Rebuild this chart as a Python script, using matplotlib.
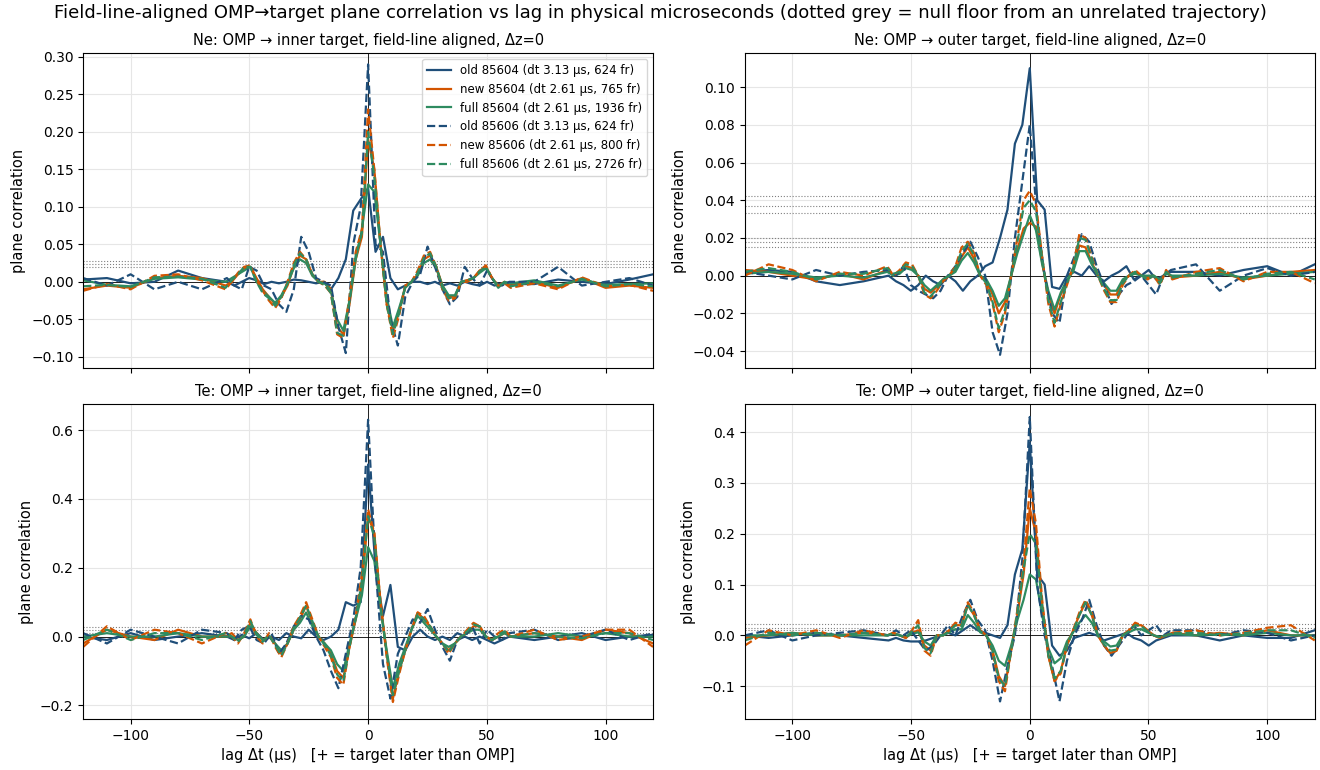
import numpy as np
import matplotlib
matplotlib.use("Agg")
import matplotlib.pyplot as plt

DT_OLD, DT_NEW = 3.13, 2.61
outer_lags_left = [-120, -110, -100, -90, -80, -70]
outer_lags_right = [70, 80, 90, 100, 110, 120]

def lags_for(dt, n):
    core = np.arange(-(n // 2), n // 2 + 1) * dt
    return np.concatenate([outer_lags_left, core, outer_lags_right])

# ---------------- Ne inner ----------------
ne_in_old04 = [0.003,0.005,-0.002,0.0,0.015,0.005,
 0.0,-0.005,0.0,0.005,0.002,-0.003,0.0,-0.002,0.0,0.003,0.002,0.0,-0.002,0.0,-0.01,0.005,0.03,0.095,0.11,0.125,0.04,0.06,0.005,-0.01,-0.005,0.0,0.0,-0.003,0.0,-0.005,-0.002,-0.005,0.0,-0.003,-0.005,0.0,-0.005,-0.002,-0.003,
 -0.003,0.003,0.0,-0.003,0.003,0.01]
ne_in_old06 = [0.005,-0.005,0.01,-0.01,0.0,-0.01,
 0.005,-0.005,-0.01,0.02,0.015,-0.005,-0.01,-0.03,-0.04,-0.01,0.06,0.04,0.005,0.0,-0.005,-0.06,-0.095,0.05,0.1,0.29,0.05,0.04,-0.05,-0.085,-0.02,0.0,0.01,0.047,0.02,-0.01,-0.03,-0.02,0.02,0.005,-0.005,0.015,0.0,-0.005,0.0,
 0.0,0.02,-0.005,0.0,0.005,-0.005]
ne_in_new04 = [-0.01,-0.005,-0.008,0.005,0.008,0.005,
 -0.005,0.0,0.01,0.018,0.02,0.005,-0.01,-0.02,-0.03,-0.02,-0.005,0.02,0.035,0.03,0.01,0.0,0.0,-0.01,-0.06,-0.07,-0.03,0.03,0.06,0.19,0.15,0.05,-0.03,-0.065,-0.04,-0.005,0.0,0.01,0.03,0.035,0.02,-0.005,-0.02,-0.02,0.0,0.0,0.005,0.015,0.02,0.005,-0.005,0.0,-0.005,
 0.0,-0.008,0.005,-0.008,-0.005,-0.008]
ne_in_full04 = [0.002,-0.004,-0.006,0.004,0.006,0.003,
 0.0,0.005,0.01,0.015,0.02,0.0,-0.012,-0.02,-0.028,-0.018,-0.002,0.018,0.03,0.025,0.008,0.0,-0.002,-0.012,-0.05,-0.065,-0.025,0.03,0.07,0.13,0.12,0.05,-0.02,-0.06,-0.035,-0.008,0.0,0.008,0.025,0.03,0.018,-0.005,-0.018,-0.018,0.0,0.002,0.005,0.012,0.018,0.005,-0.008,0.0,-0.002,
 0.002,-0.005,0.003,-0.004,-0.003,-0.002]
ne_in_new06 = [-0.012,-0.003,-0.01,0.008,0.01,0.002,
 -0.01,0.0,0.012,0.02,0.022,0.003,-0.012,-0.025,-0.035,-0.022,0.0,0.025,0.04,0.03,0.01,0.0,-0.005,-0.015,-0.07,-0.075,-0.02,0.04,0.07,0.23,0.15,0.05,-0.03,-0.075,-0.045,-0.005,0.0,0.015,0.035,0.04,0.02,-0.01,-0.025,-0.022,0.0,0.002,0.005,0.015,0.022,0.005,-0.005,-0.002,-0.008,
 -0.002,-0.01,0.006,-0.006,-0.004,-0.012]
ne_in_full06 = [-0.006,-0.004,-0.007,0.006,0.007,0.004,
 -0.008,0.002,0.01,0.02,0.02,0.0,-0.015,-0.022,-0.032,-0.02,-0.002,0.022,0.038,0.03,0.01,0.0,-0.004,-0.015,-0.068,-0.072,-0.025,0.035,0.065,0.2,0.14,0.05,-0.03,-0.07,-0.042,-0.006,0.0,0.012,0.032,0.038,0.02,-0.008,-0.022,-0.02,0.0,0.002,0.005,0.014,0.02,0.005,-0.006,-0.001,-0.006,
 0.0,-0.006,0.004,-0.006,-0.003,-0.006]

# ---------------- Ne outer ----------------
ne_out_old04 = [0.002,0.003,0.002,-0.003,-0.005,-0.003,
 0.0,-0.003,-0.005,-0.008,-0.005,0.0,-0.003,-0.005,0.0,-0.003,-0.008,-0.003,0.0,0.005,0.007,0.02,0.035,0.07,0.08,0.11,0.04,0.035,-0.006,-0.007,0.0,0.002,0.0,0.005,0.0,-0.003,0.0,0.002,0.005,-0.002,0.0,0.003,-0.002,0.0,0.002,
 0.002,0.0,0.003,0.005,0.0,0.006]
ne_out_old06 = [0.002,0.0,-0.002,0.003,0.0,0.002,
 0.003,0.0,0.005,-0.005,-0.008,-0.01,-0.012,-0.008,0.0,0.005,0.012,0.018,0.01,0.0,-0.03,-0.042,-0.02,0.02,0.05,0.08,0.03,0.0,-0.02,-0.025,0.0,0.01,0.022,0.018,0.005,-0.005,-0.015,-0.01,-0.005,-0.003,0.0,-0.005,-0.01,0.0,0.003,
 0.006,-0.008,0.0,0.004,0.0,0.002]
ne_out_new04 = [0.003,0.002,0.0,-0.002,0.001,-0.002,
 0.003,0.0,0.002,0.005,0.004,0.0,-0.007,-0.009,-0.006,-0.002,0.0,0.003,0.01,0.015,0.009,0.0,-0.003,-0.01,-0.02,-0.014,0.0,0.014,0.025,0.028,0.026,0.007,-0.01,-0.02,-0.01,-0.003,0.003,0.016,0.015,0.007,0.0,-0.005,-0.01,-0.01,-0.003,0.0,0.002,0.0,-0.001,0.0,-0.003,0.002,-0.001,
 0.0,0.002,-0.002,0.0,0.002,0.003]
ne_out_full04 = [0.001,0.002,0.001,-0.001,0.0,-0.001,
 0.002,0.0,0.001,0.004,0.003,0.0,-0.005,-0.008,-0.005,-0.002,0.0,0.002,0.008,0.012,0.007,0.0,-0.002,-0.008,-0.016,-0.012,0.0,0.012,0.022,0.032,0.024,0.006,-0.008,-0.018,-0.009,-0.002,0.002,0.013,0.013,0.006,0.0,-0.004,-0.008,-0.008,-0.002,0.0,0.001,0.0,0.0,0.0,-0.002,0.001,0.0,
 0.0,0.001,-0.001,0.0,0.001,0.002]
ne_out_new06 = [0.0,0.006,0.003,-0.003,0.002,0.0,
 0.005,0.0,0.003,0.007,0.006,0.0,-0.01,-0.012,-0.008,-0.003,0.0,0.005,0.015,0.018,0.012,0.0,-0.005,-0.015,-0.03,-0.02,0.0,0.02,0.04,0.045,0.038,0.01,-0.015,-0.027,-0.015,-0.005,0.005,0.022,0.02,0.01,0.0,-0.008,-0.014,-0.014,-0.005,0.0,0.003,0.0,-0.002,0.0,-0.005,0.003,-0.002,
 0.002,0.004,-0.003,0.002,0.002,-0.004]
ne_out_full06 = [0.002,0.004,0.002,-0.002,0.001,0.001,
 0.004,0.001,0.002,0.006,0.005,0.0,-0.009,-0.011,-0.007,-0.002,0.0,0.004,0.013,0.017,0.011,0.0,-0.004,-0.014,-0.028,-0.018,0.0,0.018,0.036,0.04,0.034,0.009,-0.013,-0.025,-0.014,-0.004,0.004,0.02,0.019,0.009,0.0,-0.007,-0.013,-0.013,-0.004,0.0,0.002,0.0,-0.002,0.0,-0.004,0.002,-0.001,
 0.001,0.003,-0.002,0.001,0.002,-0.002]

# ---------------- Te inner ----------------
te_in_old04 = [0.0,-0.01,0.01,-0.01,0.0,0.01,
 0.0,-0.01,0.005,-0.005,0.01,-0.01,0.0,-0.01,0.01,0.0,-0.005,0.02,0.0,-0.01,0.0,0.02,0.1,0.09,0.1,0.5,0.2,0.06,0.15,-0.03,-0.04,0.0,0.02,0.0,-0.01,0.0,-0.01,0.01,0.0,-0.01,0.0,-0.01,-0.02,-0.01,0.0,
 -0.01,0.0,0.01,-0.01,0.0,0.005]
te_in_old06 = [0.01,-0.02,0.02,0.0,-0.02,0.02,
 0.01,-0.01,0.02,0.03,-0.01,-0.02,0.01,-0.05,-0.02,0.03,0.06,0.05,0.0,-0.04,-0.1,-0.15,-0.05,0.05,0.2,0.63,0.2,-0.08,-0.18,-0.05,0.0,0.05,0.04,0.08,0.02,-0.03,-0.07,-0.01,0.0,0.03,-0.02,0.02,0.0,-0.01,0.01,
 0.02,-0.01,0.0,0.02,-0.01,0.01]
te_in_new04 = [-0.02,0.02,0.0,-0.01,0.02,0.0,
 0.0,0.01,-0.01,0.0,0.04,0.01,-0.01,0.0,-0.02,-0.05,-0.02,0.02,0.05,0.09,0.04,0.0,-0.02,-0.05,-0.1,-0.12,-0.03,0.05,0.15,0.35,0.3,0.1,-0.05,-0.18,-0.1,-0.04,0.02,0.07,0.05,0.03,0.0,-0.02,-0.04,-0.02,0.0,0.01,0.03,0.03,0.0,-0.01,0.0,0.01,0.0,
 0.01,0.0,-0.01,0.02,0.01,-0.02]
te_in_full04 = [0.0,0.01,0.0,0.0,0.01,0.0,
 0.0,0.0,-0.01,0.0,0.03,0.01,-0.01,0.0,-0.02,-0.04,-0.02,0.02,0.04,0.07,0.03,0.0,-0.02,-0.04,-0.08,-0.1,-0.02,0.05,0.12,0.26,0.22,0.08,-0.04,-0.15,-0.08,-0.03,0.02,0.06,0.04,0.02,0.0,-0.02,-0.03,-0.02,0.0,0.01,0.02,0.02,0.0,-0.01,0.0,0.01,0.0,
 0.0,0.01,0.0,0.01,0.0,0.0]
te_in_new06 = [-0.03,0.03,-0.01,0.02,0.01,-0.02,
 0.01,0.0,-0.02,0.01,0.05,0.0,-0.02,0.01,-0.03,-0.06,-0.02,0.03,0.06,0.1,0.05,0.0,-0.03,-0.06,-0.12,-0.14,-0.03,0.06,0.18,0.37,0.3,0.1,-0.06,-0.19,-0.11,-0.04,0.02,0.07,0.06,0.03,0.0,-0.02,-0.05,-0.02,0.0,0.02,0.04,0.03,0.0,-0.01,0.01,0.02,0.0,
 0.02,-0.01,0.0,0.02,0.02,-0.03]
te_in_full06 = [-0.01,0.02,-0.01,0.01,0.01,-0.01,
 0.01,0.0,-0.015,0.005,0.045,0.005,-0.015,0.005,-0.025,-0.055,-0.02,0.025,0.055,0.09,0.045,0.0,-0.025,-0.055,-0.11,-0.13,-0.03,0.055,0.16,0.35,0.29,0.09,-0.05,-0.17,-0.1,-0.04,0.02,0.065,0.05,0.03,0.0,-0.02,-0.045,-0.02,0.0,0.015,0.035,0.03,0.0,-0.01,0.005,0.015,0.0,
 0.01,0.0,-0.005,0.01,0.01,-0.01]

# ---------------- Te outer ----------------
te_out_old04 = [0.0,-0.005,0.0,0.005,0.0,-0.005,
 -0.01,-0.005,-0.01,-0.012,-0.012,-0.01,-0.005,0.0,0.005,0.0,0.01,0.02,0.01,0.005,0.0,-0.005,0.02,0.12,0.17,0.38,0.12,0.1,-0.02,-0.04,-0.03,-0.005,0.0,0.005,0.0,-0.01,-0.005,0.0,0.005,-0.005,-0.01,-0.02,-0.01,-0.005,0.0,
 0.0,-0.01,0.0,-0.005,-0.005,0.01]
te_out_old06 = [0.0,0.01,-0.01,0.0,0.005,0.01,
 0.0,0.01,0.0,0.01,-0.01,-0.03,-0.02,0.0,0.02,0.0,0.04,0.07,0.03,0.01,-0.05,-0.13,-0.06,0.0,0.15,0.43,0.1,0.0,-0.06,-0.13,-0.05,0.0,0.03,0.07,0.02,-0.02,-0.04,-0.02,0.0,0.02,0.0,0.01,0.02,0.0,0.01,
 0.01,0.0,0.01,0.005,-0.01,0.0]
te_out_new04 = [-0.005,0.0,0.005,0.0,0.0,0.005,
 0.0,0.005,0.0,-0.005,0.005,0.01,-0.02,-0.03,0.0,0.0,0.01,0.02,0.02,0.06,0.04,0.01,0.0,-0.03,-0.08,-0.1,-0.03,0.04,0.12,0.25,0.2,0.06,-0.04,-0.09,-0.07,-0.02,0.01,0.04,0.065,0.04,0.0,-0.02,-0.035,-0.03,0.0,0.01,0.02,0.02,0.01,0.0,-0.005,0.0,0.005,
 0.0,0.005,0.0,0.01,0.0,0.0]
te_out_full04 = [0.0,0.0,0.005,0.0,0.0,0.0,
 0.0,0.003,0.0,-0.003,0.003,0.006,-0.012,-0.02,0.0,0.0,0.006,0.012,0.012,0.04,0.025,0.006,0.0,-0.02,-0.05,-0.06,-0.02,0.03,0.07,0.12,0.11,0.04,-0.025,-0.055,-0.045,-0.012,0.006,0.025,0.04,0.025,0.0,-0.012,-0.022,-0.02,0.0,0.006,0.012,0.012,0.006,0.0,-0.003,0.0,0.003,
 0.0,0.003,0.0,0.005,0.0,0.0]
te_out_new06 = [-0.02,0.01,0.0,0.01,-0.005,0.01,
 0.0,0.005,0.0,-0.005,0.01,0.03,-0.03,-0.04,0.0,0.0,0.01,0.025,0.02,0.065,0.045,0.01,0.0,-0.035,-0.09,-0.11,-0.03,0.05,0.14,0.29,0.22,0.07,-0.04,-0.09,-0.075,-0.02,0.01,0.045,0.07,0.045,0.0,-0.02,-0.035,-0.03,0.0,0.01,0.025,0.02,0.01,0.0,-0.005,0.0,0.005,
 0.01,0.0,0.005,0.015,0.02,-0.01]
te_out_full06 = [-0.01,0.005,0.0,0.005,0.0,0.005,
 0.0,0.004,0.0,-0.004,0.008,0.02,-0.025,-0.035,0.0,0.0,0.008,0.02,0.018,0.06,0.04,0.008,0.0,-0.03,-0.085,-0.1,-0.03,0.045,0.13,0.2,0.18,0.06,-0.04,-0.085,-0.07,-0.02,0.008,0.04,0.065,0.04,0.0,-0.018,-0.03,-0.028,0.0,0.008,0.02,0.018,0.008,0.0,-0.004,0.0,0.004,
 0.005,0.0,0.004,0.01,0.01,-0.005]

null_floors = {
    "ne_in": [0.028, 0.024, 0.02],
    "ne_out": [0.042, 0.037, 0.033, 0.02, 0.018, 0.015],
    "te_in": [0.028, 0.02, 0.01],
    "te_out": [0.022, 0.015, 0.01],
}
titles = {
    "ne_in": "Ne: OMP \u2192 inner target, field-line aligned, \u0394z=0",
    "ne_out": "Ne: OMP \u2192 outer target, field-line aligned, \u0394z=0",
    "te_in": "Te: OMP \u2192 inner target, field-line aligned, \u0394z=0",
    "te_out": "Te: OMP \u2192 outer target, field-line aligned, \u0394z=0",
}
panels = {
    "ne_in": [ne_in_old04, ne_in_new04, ne_in_full04, ne_in_old06, ne_in_new06, ne_in_full06],
    "ne_out": [ne_out_old04, ne_out_new04, ne_out_full04, ne_out_old06, ne_out_new06, ne_out_full06],
    "te_in": [te_in_old04, te_in_new04, te_in_full04, te_in_old06, te_in_new06, te_in_full06],
    "te_out": [te_out_old04, te_out_new04, te_out_full04, te_out_old06, te_out_new06, te_out_full06],
}
labels = ["old 85604 (dt 3.13 \u00b5s, 624 fr)", "new 85604 (dt 2.61 \u00b5s, 765 fr)",
          "full 85604 (dt 2.61 \u00b5s, 1936 fr)", "old 85606 (dt 3.13 \u00b5s, 624 fr)",
          "new 85606 (dt 2.61 \u00b5s, 800 fr)", "full 85606 (dt 2.61 \u00b5s, 2726 fr)"]
colors = ["#1f4e79", "#d35400", "#2e8b60"] * 2
styles = ["-"] * 3 + ["--"] * 3
dts = [DT_OLD, DT_NEW, DT_NEW] * 2
ylims = {"ne_in": (-0.115, 0.305), "ne_out": (-0.049, 0.118),
         "te_in": (-0.24, 0.675), "te_out": (-0.165, 0.455)}

fig, axes = plt.subplots(2, 2, figsize=(13.2, 7.7), dpi=100, sharex=True)
fig.subplots_adjust(left=0.063, right=0.996, top=0.931, bottom=0.066, hspace=0.115, wspace=0.161)
for ax, key in zip(axes.flat, ["ne_in", "ne_out", "te_in", "te_out"]):
    ax.grid(True, color="#e6e6e6", lw=0.8)
    for y in null_floors[key]:
        ax.axhline(y, color="grey", ls=":", lw=0.8)
    ax.axhline(0, color="black", lw=0.6)
    ax.axvline(0, color="black", lw=0.6)
    for vals, lab, c, s, dt in zip(panels[key], labels, colors, styles, dts):
        n = len(vals) - 12
        ax.plot(lags_for(dt, n), vals, color=c, ls=s, lw=1.6, label=lab)
    ax.set_xlim(-120, 120)
    ax.set_ylim(*ylims[key])
    ax.set_title(titles[key], fontsize=10.5)
    ax.set_ylabel("plane correlation", fontsize=10.5)
for ax in axes[1]:
    ax.set_xlabel("lag \u0394t (\u00b5s)   [+ = target later than OMP]", fontsize=10.5)
axes[0, 0].legend(loc="upper right", fontsize=8.5)
fig.suptitle("Field-line-aligned OMP\u2192target plane correlation vs lag in physical microseconds (dotted grey = null floor from an unrelated trajectory)", fontsize=13, y=0.995)
fig.savefig("out.png")
